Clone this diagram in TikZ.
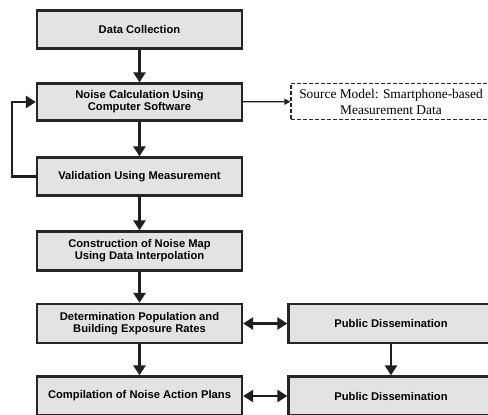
\documentclass[tikz,border=0pt]{standalone}
\usepackage{fontspec}
\setmainfont{Liberation Serif}
\newfontfamily\boxfont{Liberation Sans}
\usetikzlibrary{arrows.meta}
\begin{document}
\begin{tikzpicture}[x=1pt,y=-1pt,
  procbox/.style={draw=black!85, line width=2.3pt, fill=gray!22, minimum width=205pt,
    align=center, inner sep=0pt, font=\boxfont\bfseries\fontsize{11.2}{12.2}\selectfont},
  srcbox/.style={draw=black!85, line width=1.2pt, dash pattern=on 4pt off 2pt, fill=white,
    minimum width=212pt, minimum height=36pt, align=center, inner sep=0pt},
  srctext/.style={font=\fontsize{13.4}{16}\selectfont, align=center, inner sep=0pt},
  flow/.style={line width=2.6pt, draw=black!88, -{Triangle[length=10pt,width=12pt]}},
  dflow/.style={line width=2.6pt, draw=black!88, {Triangle[length=10pt,width=12pt]}-{Triangle[length=10pt,width=12pt]}},
  thinflow/.style={line width=1.3pt, draw=black!88, -{Triangle[length=6pt,width=6pt]}}]
\useasboundingbox (0,0) rectangle (488,415);
\clip (0,0) rectangle (488,415);
\node[procbox, minimum height=38pt] (dc) at (139.5,29.5) {Data Collection};
\node[procbox, minimum height=37pt] (nc) at (139.5,102) {Noise Calculation Using\\Computer Software};
\node[procbox, minimum height=38pt] (val) at (139.5,176.5) {Validation Using Measurement};
\node[procbox, minimum height=39pt] (con) at (139.5,251) {Construction of Noise Map\\Using Data Interpolation};
\node[procbox, minimum height=39pt] (det) at (139.5,323.5) {Determination Population and\\Building Exposure Rates};
\node[procbox, minimum height=39pt] (comp) at (139.5,396) {Compilation of Noise Action Plans};
\node[procbox, minimum height=39pt] (pd1) at (391,323.5) {Public Dissemination};
\node[procbox, minimum height=39pt] (pd2) at (391,396) {Public Dissemination};
\node[srcbox] (src) at (397,101.5) {};
\node[srctext] (srct) at (391,101.5) {Source Model: Smartphone-based\\Measurement Data};
\coordinate (fbl) at (12,176.5);
\coordinate (fbu) at (12,102);
\draw[flow] (dc) -- (nc);
\draw[flow] (nc) -- (val);
\draw[flow] (val) -- (con);
\draw[flow] (con) -- (det);
\draw[flow] (det) -- (comp);
\draw[flow] (pd1) -- (pd2);
\draw[dflow] (det) -- (pd1);
\draw[dflow] (comp) -- (pd2);
\draw[thinflow] (nc) -- (src);
\draw[line width=2.6pt, draw=black!88, -{Triangle[length=10pt,width=12pt]}] (val.west) -- (fbl) -- (fbu) -- (nc.west);
\end{tikzpicture}
\end{document}
